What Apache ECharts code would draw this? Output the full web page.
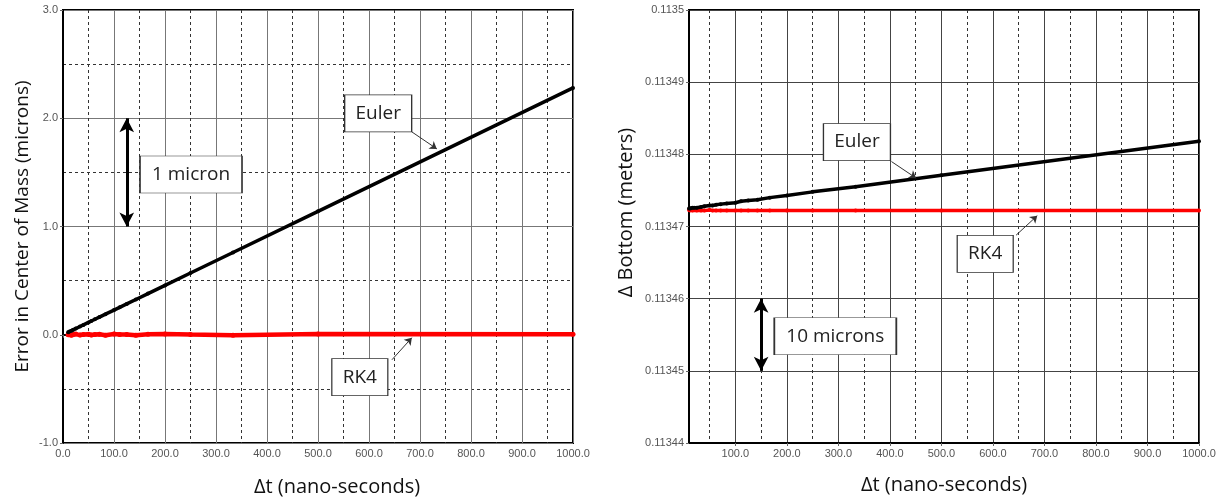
<!DOCTYPE html>
<html>
<head>
<meta charset="utf-8">
<script src="https://cdn.jsdelivr.net/npm/echarts@6/dist/echarts.min.js"></script>
<style>
  html, body {margin:0; padding:0; background:#fff;}
  #chart {width:1219px; height:502px;}
</style>
</head>
<body>
<div id="chart"></div>
<script>
// time steps (ns) where the runs were done
var dtSteps = [10, 12.5, 16.7, 20, 25, 33.3, 40, 50, 55.6, 62.5, 71.4, 83.3, 100, 111.1, 125, 142.9, 166.7, 200, 250, 333.3, 500, 1000];
// left panel: error in centre of mass (microns)
var eulerErr = [0.023, 0.029, 0.038, 0.046, 0.057, 0.076, 0.091, 0.114, 0.127, 0.143, 0.163, 0.19, 0.228, 0.253, 0.285, 0.326, 0.38, 0.456, 0.57, 0.76, 1.14, 2.28];
var rk4Err = [0.0, 0.005, -0.004, 0.003, 0.006, -0.003, 0.002, 0.004, -0.002, 0.003, 0.005, -0.004, 0.006, 0.002, 0.003, -0.005, 0.004, 0.008, 0.003, -0.004, 0.006, 0.004];
// right panel: bottom position (meters)
var eulerBottom = [0.1134725, 0.1134725, 0.1134726, 0.1134726, 0.1134726, 0.1134727, 0.1134728, 0.1134729, 0.1134729, 0.1134730, 0.1134731, 0.1134732, 0.1134733, 0.1134735, 0.1134736, 0.1134737, 0.1134740, 0.1134743, 0.1134748, 0.1134755, 0.1134771, 0.1134818];
var rk4Bottom = [0.1134723, 0.1134722, 0.1134722, 0.1134723, 0.1134722, 0.1134722, 0.1134722, 0.1134723, 0.1134722, 0.1134722, 0.1134722, 0.1134722, 0.1134722, 0.1134722, 0.1134722, 0.1134722, 0.1134722, 0.1134722, 0.1134722, 0.1134722, 0.1134722, 0.1134722];
// tick labels
var xMajorTicks = [100, 200, 300, 400, 500, 600, 700, 800, 900, 1000];
var xMinorTicks = [50, 150, 250, 350, 450, 550, 650, 750, 850, 950];

function pairs(xs, ys) {
    return xs.map(function (x, i) { return [x, ys[i]]; });
}

var labelFont = 'Liberation Sans Narrow, Liberation Sans, Arial, sans-serif';
var titleFont = 'Open Sans, Noto Sans, sans-serif';
var tickLbl = {color:'#555', fontSize:11, fontFamily:labelFont, margin:5};
var solidGrid = {show:true, lineStyle:{color:'#777', width:1, type:'solid'}};
var dashGrid = {show:true, lineStyle:{color:'#333', width:1, type:[3,3]}};
var blackAxis = {show:true, lineStyle:{color:'#000', width:2}};
var smallTick = {show:true, length:3, lineStyle:{color:'#666'}};

function box(name, coord, w) {
    return {
        name: name, coord: coord, symbol:'rect', symbolSize:[w, 37],
        itemStyle:{color:'#fff', borderColor:'#333', borderWidth:1, shadowBlur:0, opacity:1},
        label:{show:true, position:'inside', formatter:name, color:'#222', fontSize:19, fontFamily:titleFont}
    };
}
function thinArrow(a, b) {
    return [{coord:a}, {coord:b}];
}

var chart = echarts.init(document.getElementById('chart'));
var option = {
    animation:false,
    backgroundColor:'#fff',
    grid:[
        {left:63, top:10, width:510, height:433, show:true, borderColor:'#000', borderWidth:2, backgroundColor:'#fff'},
        {left:689, top:10, width:510, height:433, show:true, borderColor:'#000', borderWidth:2, backgroundColor:'#fff'}
    ],
    xAxis:[
        {
            type:'value', gridIndex:0, min:0, max:1000, interval:100,
            axisLine:blackAxis, axisTick:smallTick,
            axisLabel:Object.assign({formatter:function (v) { return v.toFixed(1); }}, tickLbl),
            splitLine:solidGrid,
            minorTick:{show:false, splitNumber:2}, minorSplitLine:dashGrid,
            name:'\u0394t (nano-seconds)', nameLocation:'middle', nameGap:34,
            nameTextStyle:{fontSize:20, color:'#111', fontFamily:titleFont, padding:[0,0,0,38]}
        },
        {
            type:'value', gridIndex:1, min:10, max:1000,
            axisLine:blackAxis,
            axisTick:{show:true, length:3, lineStyle:{color:'#666'}, customValues:xMajorTicks},
            axisLabel:Object.assign({formatter:function (v) { return v.toFixed(1); }, customValues:xMajorTicks}, tickLbl),
            splitLine:{show:true, lineStyle:{color:'#444', width:1}},
            name:'\u0394t (nano-seconds)', nameLocation:'middle', nameGap:32,
            nameTextStyle:{fontSize:20, color:'#111', fontFamily:titleFont}
        },
        {
            type:'value', gridIndex:1, min:10, max:1000,
            axisLine:{show:false}, axisLabel:{show:false},
            axisTick:{show:false, customValues:xMinorTicks},
            splitLine:dashGrid
        }
    ],
    yAxis:[
        {
            type:'value', gridIndex:0, min:-1, max:3, interval:1,
            axisLine:blackAxis, axisTick:smallTick,
            axisLabel:Object.assign({formatter:function (v) { return v.toFixed(1); }}, tickLbl),
            splitLine:solidGrid,
            minorTick:{show:false, splitNumber:2}, minorSplitLine:dashGrid,
            name:'Error in Center of Mass (microns)', nameLocation:'middle', nameGap:31,
            nameTextStyle:{fontSize:19, color:'#111', fontFamily:titleFont}
        },
        {
            type:'value', gridIndex:1, min:0.11344, max:0.1135, interval:0.00001,
            axisLine:blackAxis, axisTick:smallTick,
            axisLabel:tickLbl,
            splitLine:{show:true, lineStyle:{color:'#444', width:1}},
            name:'\u0394 Bottom (meters)', nameLocation:'middle', nameGap:53,
            nameTextStyle:{fontSize:20, color:'#111', fontFamily:titleFont, padding:[0,0,0,28]}
        }
    ],
    series:[
        {
            name:'Euler', type:'line', xAxisIndex:0, yAxisIndex:0,
            data:pairs(dtSteps, eulerErr),
            lineStyle:{color:'#000', width:3.5}, itemStyle:{color:'#000'},
            symbol:'circle', symbolSize:4, showAllSymbol:true, z:4,
            markLine:{
                silent:true, symbol:['none','arrow'], symbolSize:7,
                label:{show:false}, lineStyle:{color:'#333', width:1, type:'solid'},
                data:[thinArrow([684, 1.874], [733, 1.717]), thinArrow([645, -0.231], [684, -0.028])]
            },
            markPoint:{
                silent:true,
                data:[box('Euler', [618, 2.045], 67), box('RK4', [582, -0.392], 56), box('1 micron', [251, 1.48], 102)]
            }
        },
        {
            name:'RK4', type:'line', xAxisIndex:0, yAxisIndex:0,
            data:pairs(dtSteps, rk4Err),
            lineStyle:{color:'#ff0000', width:4.5}, itemStyle:{color:'#ff0000'},
            symbol:'circle', symbolSize:5, showAllSymbol:true, z:3,
            markLine:{
                silent:true, symbol:['arrow','arrow'], symbolSize:[11,14],
                label:{show:false}, lineStyle:{color:'#000', width:3, type:'solid'},
                data:[thinArrow([125, 2.0], [125, 1.0])]
            }
        },
        {
            name:'Euler', type:'line', xAxisIndex:1, yAxisIndex:1,
            data:pairs(dtSteps, eulerBottom),
            lineStyle:{color:'#000', width:3.5}, itemStyle:{color:'#000'},
            symbol:'circle', symbolSize:4, showAllSymbol:true, z:4,
            markLine:{
                silent:true, symbol:['none','arrow'], symbolSize:7,
                label:{show:false}, lineStyle:{color:'#333', width:1, type:'solid'},
                data:[thinArrow([403, 0.1134790], [451, 0.1134767]), thinArrow([645, 0.1134688], [686, 0.1134715])]
            },
            markPoint:{
                silent:true,
                data:[box('Euler', [336, 0.1134817], 67), box('RK4', [585, 0.1134662], 56), box('10 microns', [294, 0.1134548], 122)]
            }
        },
        {
            name:'RK4', type:'line', xAxisIndex:1, yAxisIndex:1,
            data:pairs(dtSteps, rk4Bottom),
            lineStyle:{color:'#ff0000', width:3.5}, itemStyle:{color:'#ff0000'},
            symbol:'circle', symbolSize:4, showAllSymbol:true, z:3,
            markLine:{
                silent:true, symbol:['arrow','arrow'], symbolSize:[11,14],
                label:{show:false}, lineStyle:{color:'#000', width:3, type:'solid'},
                data:[thinArrow([150, 0.11346], [150, 0.11345])]
            }
        }
    ]
};
chart.setOption(option);
</script>
</body>
</html>
